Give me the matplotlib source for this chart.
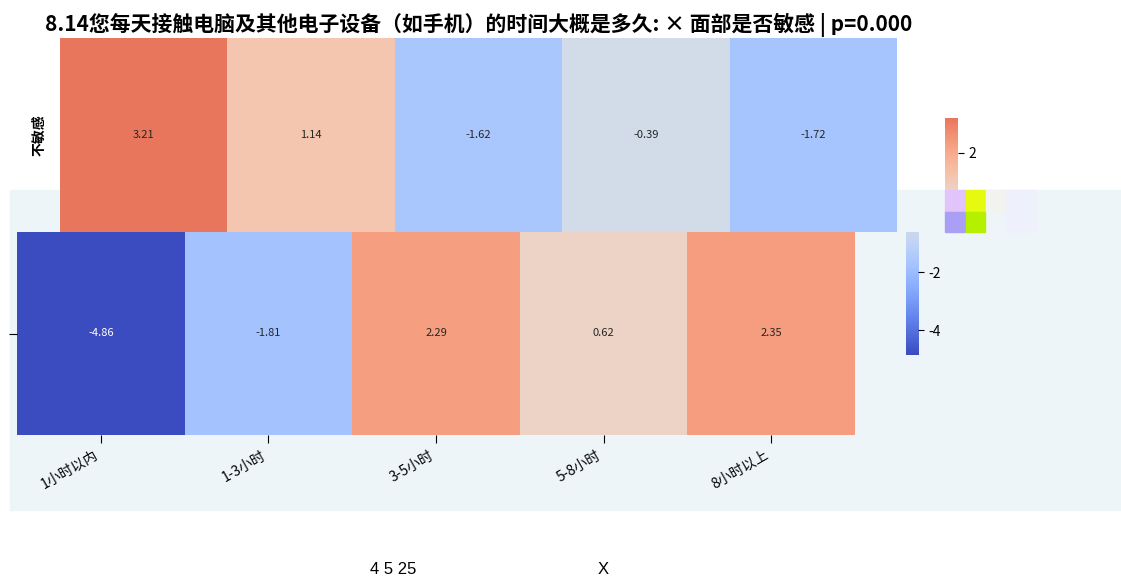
import matplotlib
matplotlib.use('Agg')
import matplotlib.pyplot as plt
import numpy as np
from matplotlib.colors import Normalize
from matplotlib.patches import Rectangle

plt.rcParams['font.family'] = ['Noto Sans CJK SC', 'DejaVu Sans']
plt.rcParams['axes.unicode_minus'] = False

# 数据
categories = ['1小时以内', '1-3小时', '3-5小时', '5-8小时', '8小时以上']
row_labels = ['不敏感', '敏感']
row_top = [3.21, 1.14, -1.62, -0.39, -1.72]
row_bottom = [-4.86, -1.81, 2.29, 0.62, 2.35]
title = '8.14您每天接触电脑及其他电子设备（如手机）的时间大概是多久: × 面部是否敏感 | p=0.000'

W, H = 1121, 582
fig = plt.figure(figsize=(W / 100, H / 100), dpi=100)

def px_axes(x0, y0, x1, y1):
    # 像素坐标(左上为原点) -> figure 坐标
    return fig.add_axes([x0 / W, 1 - y1 / H, (x1 - x0) / W, (y1 - y0) / H])

# 下半部分浅色背景
fig.patches.append(Rectangle((10 / W, 1 - 510 / H), (W - 10) / W, 320 / H,
                             transform=fig.transFigure, color='#eef5f9', zorder=-5))

vals = np.array(row_top + row_bottom)
vrange = max(vals.max(), -vals.min())
norm = Normalize(vmin=-vrange, vmax=vrange)
cmap = plt.get_cmap('coolwarm')

def draw_row(ax, values):
    data = np.array(values)[None, :]
    ax.pcolormesh(data, cmap=cmap, norm=norm)
    ax.set_xlim(0, len(values))
    ax.set_ylim(1, 0)
    for i, v in enumerate(values):
        rgba = cmap(norm(v))
        lum = 0.2126 * rgba[0] + 0.7152 * rgba[1] + 0.0722 * rgba[2]
        ax.text(i + 0.5, 0.5, f'{v:.2f}', ha='center', va='center', fontsize=8,
                color='white' if lum < 0.45 else '#262626')
    for s in ax.spines.values():
        s.set_visible(False)

ax_top = px_axes(60, 38, 897, 232)
draw_row(ax_top, row_top)
ax_top.set_xticks([])
ax_top.set_yticks([0.5])
ax_top.set_yticklabels([row_labels[0]], rotation=90, va='center', fontsize=10,
                       fontweight='bold')
ax_top.tick_params(axis='y', length=0, pad=10)
ax_top.set_title(title, fontsize=15, fontweight='bold', pad=5)

ax_bot = px_axes(17, 232, 855, 435)
draw_row(ax_bot, row_bottom)
ax_bot.set_yticks([0.5])
ax_bot.set_yticklabels([''])
ax_bot.tick_params(axis='y', length=6)
ax_bot.set_xticks(np.arange(len(categories)) + 0.5)
ax_bot.set_xticklabels(categories, rotation=30, ha='right', fontsize=10)
ax_bot.tick_params(axis='x', length=6)

# 颜色条(两段)
def draw_cbar(x0, y0, x1, y1, lo, hi, ticks):
    cax = px_axes(x0, y0, x1, y1)
    grad = np.linspace(lo, hi, 256)[:, None]
    cax.imshow(grad, cmap=cmap, norm=norm, aspect='auto', origin='lower',
               extent=[0, 1, lo, hi])
    cax.set_xticks([])
    cax.yaxis.tick_right()
    cax.set_yticks(ticks)
    cax.set_yticklabels([str(t) for t in ticks], fontsize=10)
    cax.tick_params(axis='y', length=4)
    for s in cax.spines.values():
        s.set_visible(False)

draw_cbar(945, 118, 958, 190, 0.7, vals.max(), [2])
draw_cbar(906, 232, 918, 355, vals.min(), -0.62, [-2, -4])

# 残留色块
for (x0, y0, w, h, c) in [(945, 190, 20, 22, '#e0c4fa'), (945, 212, 20, 20, '#a9a0f5'),
                          (966, 190, 19, 22, '#e6fa10'), (966, 212, 19, 20, '#b4f000'),
                          (986, 190, 20, 22, '#f2f2ee'), (1006, 190, 30, 42, '#eef0fb')]:
    fig.patches.append(Rectangle((x0 / W, 1 - (y0 + h) / H), w / W, h / H,
                                 transform=fig.transFigure, color=c, zorder=-4))

fig.text(370 / W, 1 - 570 / H, '4 5 25', fontsize=12, va='center', family='Liberation Sans')
fig.text(598 / W, 1 - 570 / H, 'X', fontsize=12, va='center', family='Liberation Sans')

fig.savefig('out.png', dpi=100)
